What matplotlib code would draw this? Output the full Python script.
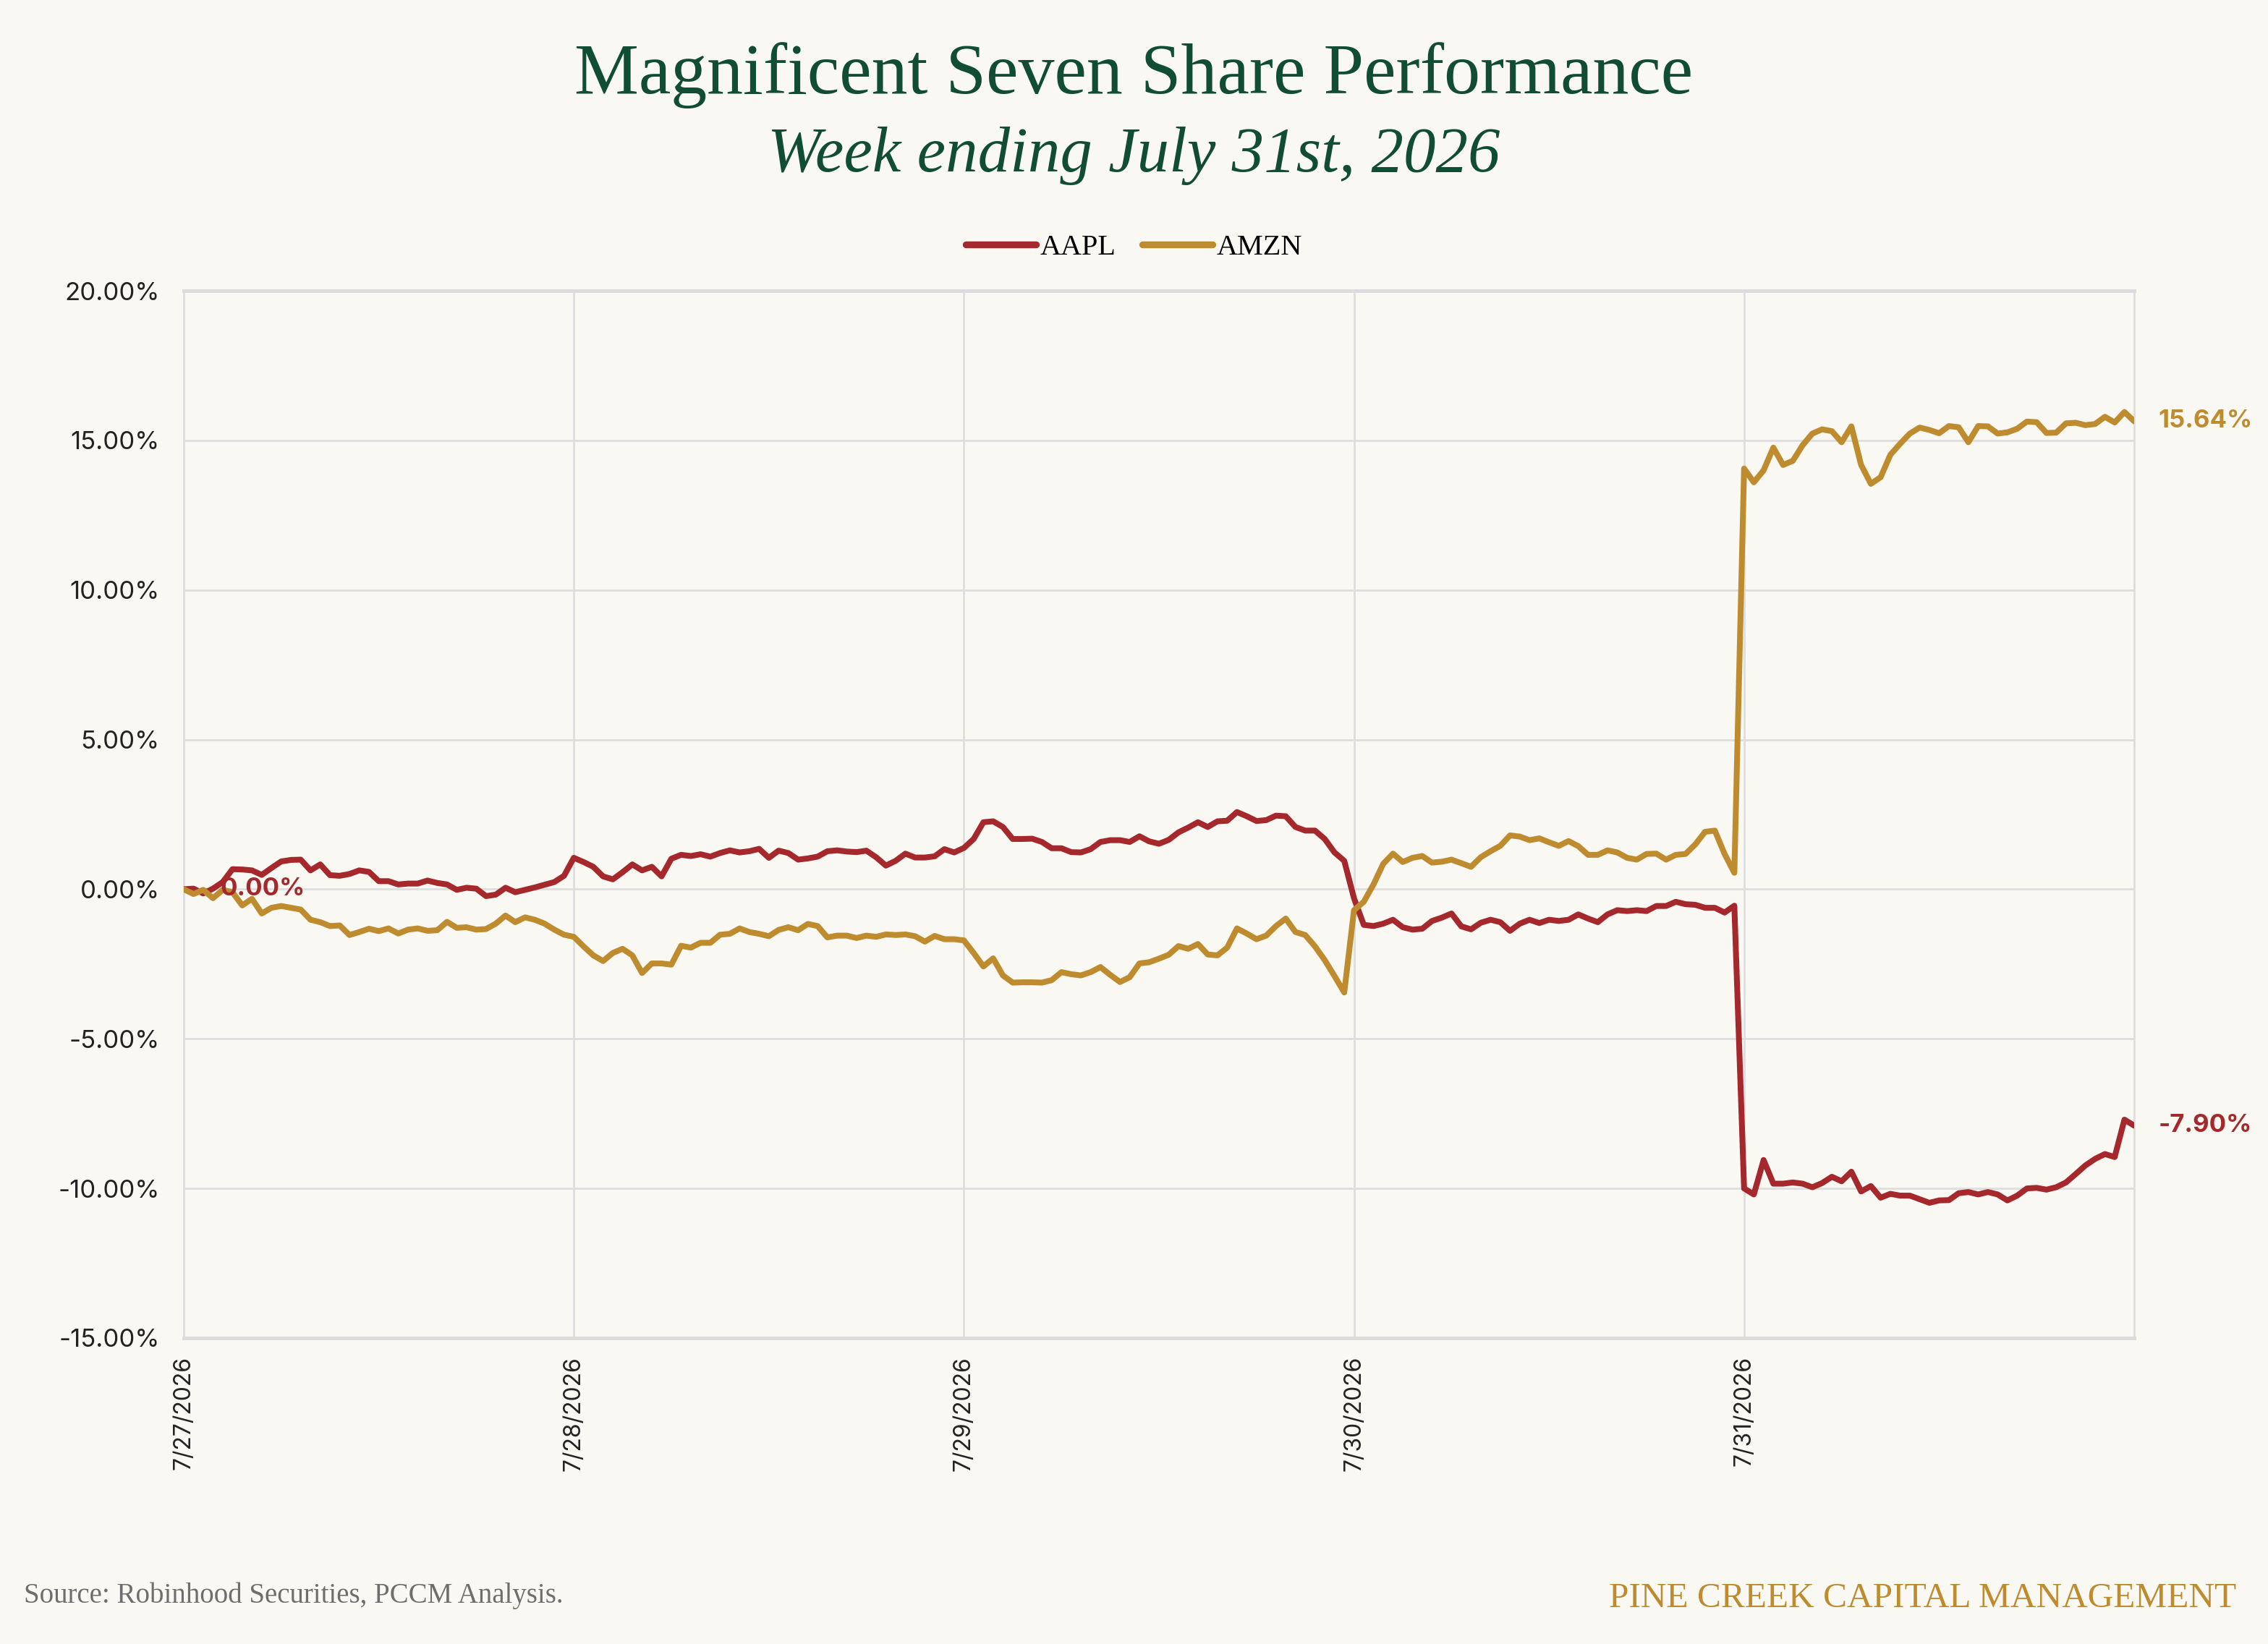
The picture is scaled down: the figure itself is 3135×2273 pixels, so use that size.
import numpy as np
import matplotlib
matplotlib.use("Agg")
import matplotlib.pyplot as plt
from matplotlib.ticker import FuncFormatter, FixedLocator

# 색상 / 폰트 설정
BG = "#F9F8F3"
GREEN = "#114D30"
RED = "#A5292C"
GOLD = "#BF8B2F"
SERIF = "Liberation Serif"
SANS = "Inter"

# x축 날짜 라벨 (하루 40샘플)
day_labels = ["7/27/2026", "7/28/2026", "7/29/2026", "7/30/2026", "7/31/2026"]
samples_per_day = 40

# 누적 수익률 [%]
aapl_pct = [
    # 7/27
    0.00, 0.02, -0.14, 0.02, 0.24, 0.67, 0.66, 0.63, 0.48, 0.71, 0.93, 0.98, 0.99, 0.63, 0.83, 0.47, 0.45, 0.51, 0.63, 0.58,
    0.27, 0.27, 0.16, 0.19, 0.19, 0.29, 0.21, 0.16, -0.02, 0.05, 0.02, -0.23, -0.18, 0.05, -0.10, -0.02, 0.06, 0.15, 0.24, 0.45,
    # 7/28
    1.05, 0.91, 0.75, 0.43, 0.33, 0.57, 0.83, 0.63, 0.75, 0.43, 1.02, 1.15, 1.11, 1.17, 1.09, 1.21, 1.30, 1.23, 1.27, 1.35,
    1.05, 1.29, 1.21, 0.99, 1.03, 1.09, 1.27, 1.30, 1.26, 1.24, 1.29, 1.07, 0.79, 0.95, 1.19, 1.06, 1.06, 1.10, 1.34, 1.23,
    # 7/29
    1.38, 1.68, 2.24, 2.27, 2.08, 1.68, 1.68, 1.69, 1.58, 1.37, 1.37, 1.24, 1.23, 1.34, 1.58, 1.64, 1.64, 1.58, 1.77, 1.60,
    1.52, 1.65, 1.90, 2.06, 2.24, 2.08, 2.27, 2.29, 2.58, 2.44, 2.28, 2.31, 2.46, 2.44, 2.08, 1.96, 1.96, 1.68, 1.23, 0.95,
    # 7/30
    -0.30, -1.19, -1.23, -1.15, -1.02, -1.27, -1.35, -1.32, -1.06, -0.95, -0.81, -1.24, -1.34, -1.12, -1.02, -1.10, -1.39, -1.15, -1.02, -1.13,
    -1.02, -1.06, -1.02, -0.84, -0.98, -1.10, -0.84, -0.70, -0.73, -0.70, -0.73, -0.56, -0.56, -0.42, -0.50, -0.52, -0.62, -0.62, -0.78, -0.55,
    # 7/31
    -10.00, -10.20, -9.05, -9.84, -9.84, -9.80, -9.84, -9.96, -9.82, -9.61, -9.76, -9.44, -10.10, -9.92, -10.31, -10.18, -10.24, -10.24, -10.36, -10.48,
    -10.40, -10.39, -10.16, -10.12, -10.20, -10.12, -10.20, -10.40, -10.24, -10.00, -9.98, -10.04, -9.96, -9.80, -9.52, -9.23, -9.01, -8.85, -8.95, -7.70,
    -7.90,
]

amzn_pct = [
    # 7/27
    0.00, -0.16, -0.02, -0.30, -0.02, -0.10, -0.54, -0.32, -0.81, -0.62, -0.56, -0.62, -0.68, -1.02, -1.10, -1.23, -1.21, -1.53, -1.43, -1.32,
    -1.40, -1.31, -1.48, -1.35, -1.31, -1.39, -1.37, -1.09, -1.29, -1.27, -1.35, -1.33, -1.15, -0.88, -1.10, -0.94, -1.02, -1.15, -1.35, -1.52,
    # 7/28
    -1.59, -1.91, -2.21, -2.40, -2.13, -1.99, -2.21, -2.80, -2.48, -2.48, -2.52, -1.89, -1.95, -1.79, -1.79, -1.52, -1.49, -1.31, -1.43, -1.49,
    -1.57, -1.36, -1.27, -1.37, -1.16, -1.23, -1.61, -1.55, -1.55, -1.63, -1.55, -1.59, -1.51, -1.53, -1.51, -1.57, -1.75, -1.56, -1.67, -1.67,
    # 7/29
    -1.71, -2.13, -2.58, -2.31, -2.88, -3.12, -3.11, -3.11, -3.12, -3.04, -2.77, -2.84, -2.88, -2.77, -2.60, -2.86, -3.10, -2.94, -2.48, -2.44,
    -2.32, -2.19, -1.90, -1.99, -1.83, -2.18, -2.21, -1.95, -1.31, -1.48, -1.67, -1.55, -1.23, -0.98, -1.43, -1.53, -1.91, -2.37, -2.90, -3.45,
    # 7/30
    -0.70, -0.42, 0.16, 0.85, 1.19, 0.91, 1.05, 1.11, 0.89, 0.92, 0.99, 0.87, 0.75, 1.07, 1.27, 1.45, 1.80, 1.76, 1.64, 1.70,
    1.57, 1.45, 1.61, 1.44, 1.15, 1.15, 1.30, 1.23, 1.05, 0.99, 1.18, 1.19, 0.99, 1.15, 1.18, 1.50, 1.92, 1.96, 1.18, 0.55,
    # 7/31
    14.06, 13.60, 14.00, 14.76, 14.18, 14.32, 14.84, 15.23, 15.37, 15.31, 14.94, 15.47, 14.18, 13.55, 13.77, 14.52, 14.89, 15.23, 15.43, 15.35,
    15.24, 15.48, 15.44, 14.94, 15.48, 15.47, 15.23, 15.27, 15.39, 15.63, 15.61, 15.25, 15.26, 15.57, 15.59, 15.51, 15.55, 15.79, 15.60, 15.95,
    15.64,
]

y_ticks = [-15, -10, -5, 0, 5, 10, 15, 20]


def main():
    t = np.arange(len(aapl_pct)) / samples_per_day

    fig = plt.figure(figsize=(15.675, 11.365), dpi=200, facecolor=BG)
    ax = fig.add_axes([0.081, 0.1861, 0.860, 0.637])
    ax.set_facecolor(BG)

    ax.plot(t, aapl_pct, color=RED, lw=2.9, label="AAPL", solid_joinstyle="round", solid_capstyle="round", zorder=3)
    ax.plot(t, amzn_pct, color=GOLD, lw=2.9, label="AMZN", solid_joinstyle="round", solid_capstyle="round", zorder=3)

    ax.set_xlim(0, len(day_labels))
    ax.set_ylim(y_ticks[0], y_ticks[-1])
    ax.yaxis.set_major_locator(FixedLocator(y_ticks))
    ax.yaxis.set_major_formatter(FuncFormatter(lambda v, p: f"{v:.2f}%"))
    ax.set_xticks(range(len(day_labels)))
    ax.set_xticklabels(day_labels, rotation=90, va="top", ha="center")

    ax.grid(True, color="#DEDEDE", lw=1.0)
    ax.set_axisbelow(True)
    for side in ["left", "right"]:
        ax.spines[side].set_color("#DEDEDE")
        ax.spines[side].set_linewidth(1.0)
    for side in ["top", "bottom"]:
        ax.spines[side].set_color("#DCDCDE")
        ax.spines[side].set_linewidth(1.8)
    ax.tick_params(length=0)
    ax.tick_params(axis="y", pad=12, labelsize=12.5, labelcolor="#222222")
    ax.tick_params(axis="x", pad=9, labelsize=11.5, labelcolor="#222222")
    for lbl in ax.get_xticklabels() + ax.get_yticklabels():
        lbl.set_fontfamily(SANS)

    # 시작/끝 값 라벨
    ax.annotate(f"{aapl_pct[0]:.2f}%", (t[0], aapl_pct[0]), xytext=(18, 0), textcoords="offset points",
                color=RED, fontsize=12.5, fontweight="bold", family=SANS, va="center", ha="left")
    ax.annotate(f"{amzn_pct[-1]:.2f}%", (t[-1], amzn_pct[-1]), xytext=(12, 0), textcoords="offset points",
                color=GOLD, fontsize=12.5, fontweight="bold", family=SANS, va="center", ha="left",
                annotation_clip=False)
    ax.annotate(f"{aapl_pct[-1]:.2f}%", (t[-1], aapl_pct[-1]), xytext=(12, 0), textcoords="offset points",
                color=RED, fontsize=12.5, fontweight="bold", family=SANS, va="center", ha="left",
                annotation_clip=False)

    fig.text(0.5, 0.954, "Magnificent Seven Share Performance", ha="center", va="center",
             color=GREEN, fontsize=36, family=SERIF)
    fig.text(0.5, 0.905, "Week ending July 31st, 2026", ha="center", va="center",
             color=GREEN, fontsize=32, family=SERIF, style="italic")

    leg = fig.legend(loc="center", bbox_to_anchor=(0.5, 0.8495), ncol=2, frameon=False,
                     handlelength=2.4, handletextpad=0.15, columnspacing=0.9,
                     prop={"family": SERIF, "size": 14.5})
    for line in leg.get_lines():
        line.set_linewidth(3.4)

    fig.text(0.0105, 0.0295, "Source: Robinhood Securities, PCCM Analysis.", ha="left", va="center",
             color="#6E6E6E", fontsize=14, family=SERIF)
    fig.text(0.986, 0.0275, "PINE CREEK CAPITAL MANAGEMENT", ha="right", va="center",
             color=GOLD, fontsize=17.8, family=SERIF)

    fig.savefig("out.png", dpi=200, facecolor=BG)


if __name__ == '__main__':
    main()
